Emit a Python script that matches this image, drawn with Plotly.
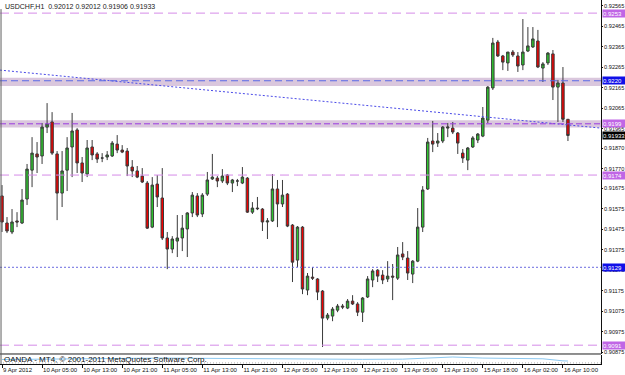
import plotly.graph_objects as go

# ---------------- data (USDCHF H1) ----------------
open_ = [0.91638, 0.91506, 0.91462, 0.91516, 0.91506, 0.91623, 0.91764, 0.91843, 0.91833, 0.91974,
         0.91999, 0.91843, 0.91652, 0.91764, 0.91877, 0.91960, 0.91799, 0.91745, 0.91877, 0.91843,
         0.91823, 0.91828, 0.91833, 0.91891, 0.91862, 0.91857, 0.91779, 0.91760, 0.91735, 0.91701,
         0.91486, 0.91696, 0.91628, 0.91433, 0.91379, 0.91418, 0.91433, 0.91477, 0.91555, 0.91638,
         0.91550, 0.91647, 0.91721, 0.91725, 0.91711, 0.91740, 0.91701, 0.91711, 0.91701, 0.91725,
         0.91559, 0.91579, 0.91574, 0.91511, 0.91516, 0.91672, 0.91599, 0.91647, 0.91496, 0.91325,
         0.91486, 0.91179, 0.91242, 0.91233, 0.91174, 0.91042, 0.91052, 0.91081, 0.91101, 0.91091,
         0.91125, 0.91111, 0.91071, 0.91145, 0.91228, 0.91276, 0.91252, 0.91233, 0.91247, 0.91237,
         0.91355, 0.91335, 0.91257, 0.91320, 0.91486, 0.91672, 0.91906, 0.91896, 0.91906, 0.91969,
         0.91969, 0.91945, 0.91847, 0.91813, 0.91877, 0.91911, 0.91930, 0.92008, 0.92165, 0.92389,
         0.92321, 0.92287, 0.92340, 0.92321, 0.92277, 0.92345, 0.92365, 0.92394, 0.92262, 0.92287,
         0.92331, 0.92169, 0.92189, 0.92012]
high = [0.91691, 0.91535, 0.91574, 0.91559, 0.91672, 0.91794, 0.91925, 0.91901, 0.91994, 0.92091,
        0.92047, 0.91857, 0.91857, 0.91925, 0.92043, 0.91969, 0.91828, 0.91911, 0.91911, 0.91852,
        0.91847, 0.91857, 0.91906, 0.91935, 0.91886, 0.91872, 0.91813, 0.91784, 0.91774, 0.91711,
        0.91730, 0.91740, 0.91774, 0.91462, 0.91442, 0.91545, 0.91545, 0.91559, 0.91657, 0.91652,
        0.91652, 0.91755, 0.91843, 0.91735, 0.91769, 0.91745, 0.91721, 0.91721, 0.91779, 0.91730,
        0.91608, 0.91633, 0.91579, 0.91530, 0.91745, 0.91716, 0.91716, 0.91652, 0.91501, 0.91491,
        0.91491, 0.91262, 0.91291, 0.91237, 0.91179, 0.91067, 0.91096, 0.91111, 0.91111, 0.91135,
        0.91154, 0.91120, 0.91145, 0.91247, 0.91281, 0.91281, 0.91276, 0.91320, 0.91306, 0.91389,
        0.91413, 0.91369, 0.91325, 0.91579, 0.91686, 0.91921, 0.92004, 0.91945, 0.91979, 0.91994,
        0.91999, 0.91950, 0.91867, 0.91877, 0.91930, 0.91945, 0.92072, 0.92174, 0.92409, 0.92399,
        0.92326, 0.92340, 0.92350, 0.92340, 0.92501, 0.92462, 0.92462, 0.92448, 0.92291, 0.92340,
        0.92350, 0.92204, 0.92267, 0.92012]
low = [0.91462, 0.91457, 0.91452, 0.91486, 0.91501, 0.91594, 0.91681, 0.91750, 0.91794, 0.91945,
       0.91838, 0.91520, 0.91584, 0.91662, 0.91730, 0.91750, 0.91706, 0.91730, 0.91813, 0.91799,
       0.91803, 0.91813, 0.91828, 0.91847, 0.91847, 0.91735, 0.91730, 0.91725, 0.91701, 0.91477,
       0.91481, 0.91584, 0.91423, 0.91281, 0.91359, 0.91340, 0.91369, 0.91340, 0.91535, 0.91535,
       0.91535, 0.91638, 0.91716, 0.91681, 0.91701, 0.91691, 0.91657, 0.91686, 0.91696, 0.91555,
       0.91550, 0.91569, 0.91467, 0.91428, 0.91511, 0.91486, 0.91584, 0.91486, 0.91218, 0.91291,
       0.91159, 0.91154, 0.91228, 0.91130, 0.90901, 0.91032, 0.91027, 0.91071, 0.91086, 0.91086,
       0.91106, 0.91052, 0.91023, 0.91140, 0.91193, 0.91218, 0.91208, 0.91218, 0.91130, 0.91228,
       0.91325, 0.91228, 0.91213, 0.91315, 0.91462, 0.91667, 0.91852, 0.91877, 0.91896, 0.91925,
       0.91940, 0.91843, 0.91799, 0.91764, 0.91872, 0.91896, 0.91925, 0.91994, 0.92155, 0.92316,
       0.92252, 0.92248, 0.92316, 0.92243, 0.92252, 0.92340, 0.92360, 0.92262, 0.92194, 0.92277,
       0.92106, 0.91999, 0.91999, 0.91906]
close = [0.91511, 0.91467, 0.91511, 0.91511, 0.91618, 0.91769, 0.91847, 0.91828, 0.91974, 0.91989,
         0.91847, 0.91652, 0.91760, 0.91872, 0.91955, 0.91799, 0.91750, 0.91872, 0.91838, 0.91818,
         0.91823, 0.91838, 0.91896, 0.91862, 0.91852, 0.91784, 0.91760, 0.91730, 0.91706, 0.91481,
         0.91691, 0.91633, 0.91433, 0.91379, 0.91428, 0.91433, 0.91481, 0.91555, 0.91642, 0.91545,
         0.91642, 0.91716, 0.91730, 0.91711, 0.91735, 0.91701, 0.91716, 0.91711, 0.91730, 0.91559,
         0.91579, 0.91576, 0.91511, 0.91516, 0.91672, 0.91599, 0.91642, 0.91491, 0.91315, 0.91486,
         0.91184, 0.91247, 0.91237, 0.91169, 0.91042, 0.91057, 0.91086, 0.91101, 0.91096, 0.91125,
         0.91111, 0.91071, 0.91140, 0.91233, 0.91272, 0.91247, 0.91228, 0.91247, 0.91242, 0.91350,
         0.91340, 0.91262, 0.91320, 0.91486, 0.91667, 0.91901, 0.91891, 0.91906, 0.91974, 0.91974,
         0.91950, 0.91896, 0.91823, 0.91872, 0.91921, 0.91940, 0.92018, 0.92169, 0.92384, 0.92321,
         0.92291, 0.92340, 0.92326, 0.92272, 0.92340, 0.92370, 0.92404, 0.92267, 0.92282, 0.92335,
         0.92169, 0.92189, 0.92012, 0.91933]

# time-axis labels (every 8th bar)
tick_bars = [0, 8, 16, 24, 32, 40, 48, 56, 64, 72, 80, 88, 96, 104, 112]
tick_text = ["9 Apr 2012", "10 Apr 05:00", "10 Apr 13:00", "10 Apr 21:00", "11 Apr 05:00",
             "11 Apr 13:00", "11 Apr 21:00", "12 Apr 05:00", "12 Apr 13:00", "12 Apr 21:00",
             "13 Apr 05:00", "13 Apr 13:00", "15 Apr 18:00", "16 Apr 02:00", "16 Apr 10:00"]

# price scale labels
price_ticks = [0.92565, 0.92465, 0.92365, 0.92265, 0.92165, 0.92065, 0.91965, 0.91870, 0.91770,
               0.91675, 0.91575, 0.91475, 0.91375, 0.91275, 0.91175, 0.91075, 0.90975, 0.90875]

# horizontal levels drawn on the chart
level_dashed_violet = [0.9253, 0.9174, 0.9091]
level_blue_dashed = 0.9220
level_purple_dashed = 0.9199
level_blue_dotted = 0.9129
bid_price = 0.91933
zone_9220 = (0.92175, 0.92215)
zone_9199 = (0.91972, 0.92007)
trend_bars = [-0.4, 119.6]
trend_prices = [0.92252, 0.91969]

# lower indicator window (normalised level)
ind_bars = [0, 8, 16, 24, 32, 40, 48, 56, 64, 72, 80, 88, 90, 96, 104, 108, 112, 113]
ind_vals = [50, 52, 52, 62, 66, 62, 58, 56, 54, 52, 54, 72, 78, 66, 62, 58, 35, 33]

n = len(open_)
bars = list(range(n))

VIOLET_LINE = "#D58BE8"
VIOLET_BOX = "#C066E6"
BAND = "rgba(205,180,210,0.75)"
FONT = "Liberation Sans, Arial, sans-serif"

fig = go.Figure()

fig.add_trace(go.Candlestick(
    x=bars, open=open_, high=high, low=low, close=close,
    increasing=dict(fillcolor="#2EC42E", line=dict(color="#3a3a3a", width=1)),
    decreasing=dict(fillcolor="#F00000", line=dict(color="#3a3a3a", width=1)),
    whiskerwidth=0, hoverinfo="skip", showlegend=False,
    xaxis="x", yaxis="y"))

fig.add_trace(go.Scatter(
    x=ind_bars, y=ind_vals, mode="lines", line=dict(color="#8CC8F0", width=1),
    hoverinfo="skip", showlegend=False, xaxis="x", yaxis="y2"))

fig.add_trace(go.Scatter(
    x=trend_bars, y=trend_prices, mode="lines",
    line=dict(color="#4A4AE8", width=1, dash="2px,2px"),
    hoverinfo="skip", showlegend=False, xaxis="x", yaxis="y"))

shapes = []
for lo, hi in (zone_9220, zone_9199):
    shapes.append(dict(type="rect", xref="paper", x0=0, x1=1, yref="y", y0=lo, y1=hi,
                       fillcolor=BAND, line=dict(width=0), layer="below"))
for lv in level_dashed_violet:
    shapes.append(dict(type="line", xref="paper", x0=0, x1=1, yref="y", y0=lv, y1=lv,
                       line=dict(color=VIOLET_LINE, width=1, dash="9px,5px")))
shapes.append(dict(type="line", xref="paper", x0=0, x1=1, yref="y",
                   y0=level_blue_dashed, y1=level_blue_dashed,
                   line=dict(color="#5A68E6", width=1, dash="7px,4px")))
shapes.append(dict(type="line", xref="paper", x0=0, x1=1, yref="y",
                   y0=level_purple_dashed, y1=level_purple_dashed,
                   line=dict(color="#9B3BE0", width=1, dash="6px,3px")))
shapes.append(dict(type="line", xref="paper", x0=0, x1=1, yref="y",
                   y0=level_blue_dotted, y1=level_blue_dotted,
                   line=dict(color="#6A6AE0", width=1, dash="2px,2px")))
# window separator and frame
shapes.append(dict(type="line", xref="paper", x0=0, x1=1, yref="paper", y0=0.0275, y1=0.0275,
                   line=dict(color="#202020", width=1)))
shapes.append(dict(type="line", xref="paper", x0=0.0017, x1=0.0017, yref="paper", y0=0, y1=0.975,
                   line=dict(color="#606060", width=1)))
shapes.append(dict(type="line", xref="paper", x0=0, x1=1, yref="y2", y0=12, y1=12,
                   line=dict(color="#B0B0B0", width=1, dash="1px,2px")))
fig.update_layout(shapes=shapes)

annotations = [
    dict(text="USDCHF,H1  0.92012 0.92012 0.91906 0.91933", xref="paper", yref="paper",
         x=0.005, y=1, xanchor="left", yanchor="top", yshift=-1, showarrow=False,
         font=dict(family=FONT, size=7, color="#202020")),
    dict(text="OANDA - MT4, © 2001-2011 MetaQuotes Software Corp.", xref="paper", yref="paper",
         x=0.003, y=0.013, xanchor="left", yanchor="middle", showarrow=False,
         font=dict(family=FONT, size=8, color="#101010")),
]
box_levels = [(0.9253, "0.9253", VIOLET_BOX), (0.9220, "0.9220", "#1010E8"),
              (0.9199, "0.9199", VIOLET_BOX), (bid_price, "0.91933", "#000000"),
              (0.9174, "0.9174", VIOLET_BOX), (0.9129, "0.9129", "#1010E8"),
              (0.9091, "0.9091", VIOLET_BOX)]
for val, txt, col in box_levels:
    annotations.append(dict(text=txt, xref="paper", yref="y", x=1, y=val, xanchor="left",
                            yanchor="middle", xshift=1, showarrow=False, bgcolor=col,
                            width=23, height=7, borderpad=0, align="left",
                            font=dict(family=FONT, size=6, color="#FFFFFF")))
fig.update_layout(annotations=annotations)

fig.update_layout(
    width=625, height=375,
    margin=dict(l=0, r=24, t=0, b=11, autoexpand=False),
    paper_bgcolor="white", plot_bgcolor="white",
    font=dict(family=FONT, size=6, color="#111111"),
    showlegend=False,
    xaxis=dict(anchor="y2", range=[-0.4, 119.6], tickmode="array", tickvals=tick_bars,
               ticktext=tick_text, tickangle=0, automargin=False,
               ticks="outside", ticklen=3, tickcolor="#111111",
               ticklabelposition="outside right", tickfont=dict(family=FONT, size=6),
               showgrid=False, zeroline=False, showline=True, linecolor="#111111",
               linewidth=1, rangeslider=dict(visible=False)),
    yaxis=dict(domain=[0.0275, 1], range=[0.90867, 0.92594], side="right",
               tickmode="array", tickvals=price_ticks, tickformat=".5f", automargin=False,
               ticks="outside", ticklen=1, tickcolor="#111111",
               tickfont=dict(family=FONT, size=5.6), showgrid=False, zeroline=False,
               showline=True, linecolor="#111111", linewidth=1),
    yaxis2=dict(domain=[0, 0.0247], range=[0, 100], side="right", showticklabels=False,
                ticks="", showgrid=False, zeroline=False, showline=True, automargin=False,
                linecolor="#111111", linewidth=1),
)

fig.write_html("out.html")
